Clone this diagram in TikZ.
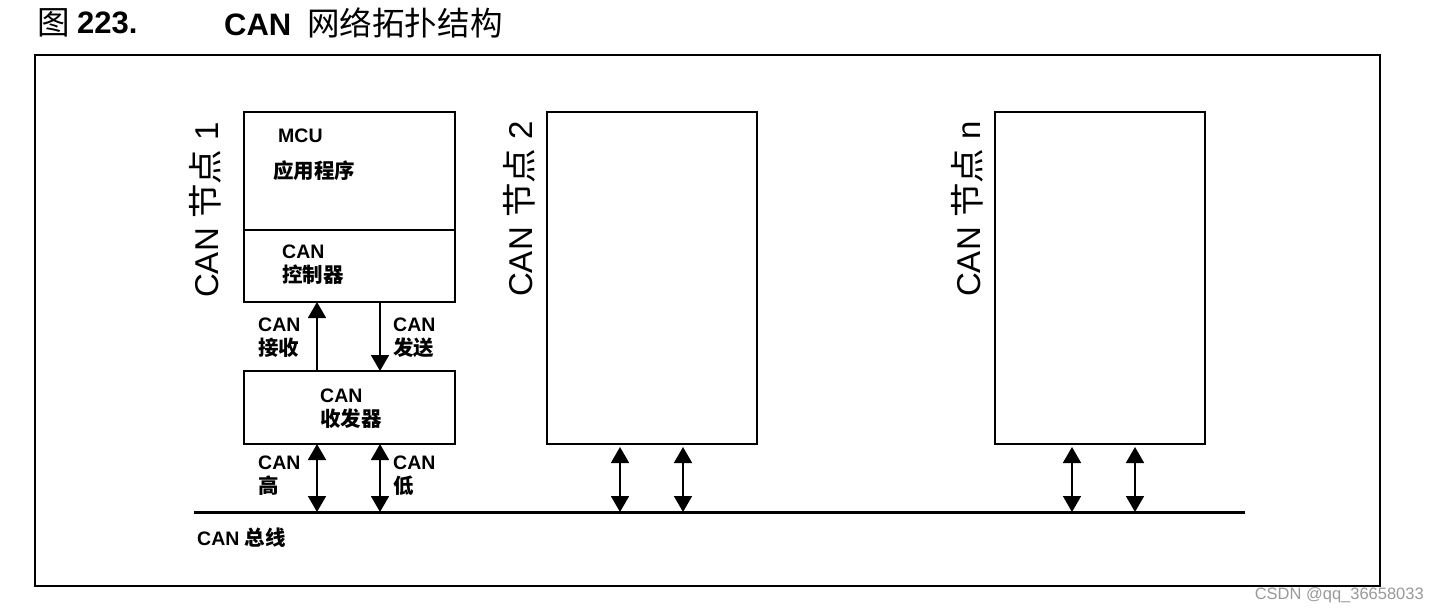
\documentclass[tikz,border=0pt]{standalone}
\usepackage{fontspec}
\setmainfont{Liberation Sans}
\newfontfamily\cjk{Noto Sans CJK SC}[Scale=1.05]
\usetikzlibrary{arrows.meta}
\begin{document}
\begin{tikzpicture}[x=1pt,y=-1pt,
  box/.style={draw, line width=1.8pt, inner sep=0, outer sep=0},
  arr/.style={line width=1.8pt, -{Triangle[width=18pt,length=16pt]}},
  darr/.style={line width=1.8pt, {Triangle[width=18pt,length=16pt]}-{Triangle[width=18pt,length=16pt]}},
  lbl/.style={font=\bfseries\fontsize{19.5}{24}\selectfont, align=left, inner sep=0, anchor=west},
  vlbl/.style={font=\fontsize{33}{38}\selectfont, rotate=90, inner sep=0},
  ttl/.style={font=\bfseries\fontsize{31}{35}\selectfont, inner sep=0, anchor=west}]
\useasboundingbox (0,0) rectangle (1437,610);
% title
\node[ttl] (tfig) at (37,23) {\cjk\mdseries 图};
\node[ttl] (tnum) at (77,23) {223.};
\node[ttl] (tname) at (224,23) {CAN {\cjk\mdseries\ 网络拓扑结构}};
% frame
\node[draw, line width=2pt, inner sep=0, outer sep=0, minimum width=1345pt, minimum height=531pt, anchor=north west] (frame) at (35,55) {};
% node 1
\node[box, minimum width=211pt, minimum height=118pt, anchor=north west] (mcu) at (244,112) {};
\node[box, minimum width=211pt, minimum height=72pt, anchor=north west] (ctrl) at (244,230) {};
\node[box, minimum width=211pt, minimum height=73pt, anchor=north west] (xcvr) at (244,371) {};
\node[lbl] (tmcu) at (278,136) {MCU};
\node[lbl] (tapp) at (273,171) {\cjk 应用程序};
\node[lbl] (tctrl) at (282,265) {CAN\\{\cjk 控制器}};
\node[lbl] (txcvr) at (320,409) {CAN\\{\cjk 收发器}};
\node[lbl] (trx) at (258,338) {CAN\\{\cjk 接收}};
\node[lbl] (ttx) at (393,338) {CAN\\{\cjk 发送}};
\node[lbl] (thi) at (258,476) {CAN\\{\cjk 高}};
\node[lbl] (tlo) at (393,476) {CAN\\{\cjk 低}};
\node[vlbl] (v1) at (205,210) {CAN {\cjk 节点} 1};
% node 2 and n
\node[box, minimum width=210pt, minimum height=332pt, anchor=north west] (node2) at (547,112) {};
\node[box, minimum width=210pt, minimum height=332pt, anchor=north west] (noden) at (995,112) {};
\node[vlbl] (v2) at (519,209) {CAN {\cjk 节点} 2};
\node[vlbl] (vn) at (967,209) {CAN {\cjk 节点} n};
% bus
\coordinate (busL) at (194,512);
\coordinate (busR) at (1245,512);
\draw[line width=3pt] (busL) -- (busR);
\node[lbl] (tbus) at (197,538) {CAN {\cjk 总线}};
% arrow x positions
\coordinate (a1) at (317,0);
\coordinate (a2) at (380,0);
\coordinate (b1) at (620,0);
\coordinate (b2) at (683,0);
\coordinate (c1) at (1072,0);
\coordinate (c2) at (1135,0);
\draw[arr] (xcvr.north -| a1) -- (ctrl.south -| a1);
\draw[arr] (ctrl.south -| a2) -- (xcvr.north -| a2);
\draw[darr] (xcvr.south -| a1) -- (busL -| a1);
\draw[darr] (xcvr.south -| a2) -- (busL -| a2);
\draw[darr, shorten <=3pt] (node2.south -| b1) -- (busL -| b1);
\draw[darr, shorten <=3pt] (node2.south -| b2) -- (busL -| b2);
\draw[darr, shorten <=3pt] (noden.south -| c1) -- (busL -| c1);
\draw[darr, shorten <=3pt] (noden.south -| c2) -- (busL -| c2);
% watermark
\node[anchor=east, inner sep=0, text=black!40, font=\fontsize{16.5}{19}\selectfont] (wm) at (1424,595) {CSDN @qq\_36658033};
\end{tikzpicture}
\end{document}
